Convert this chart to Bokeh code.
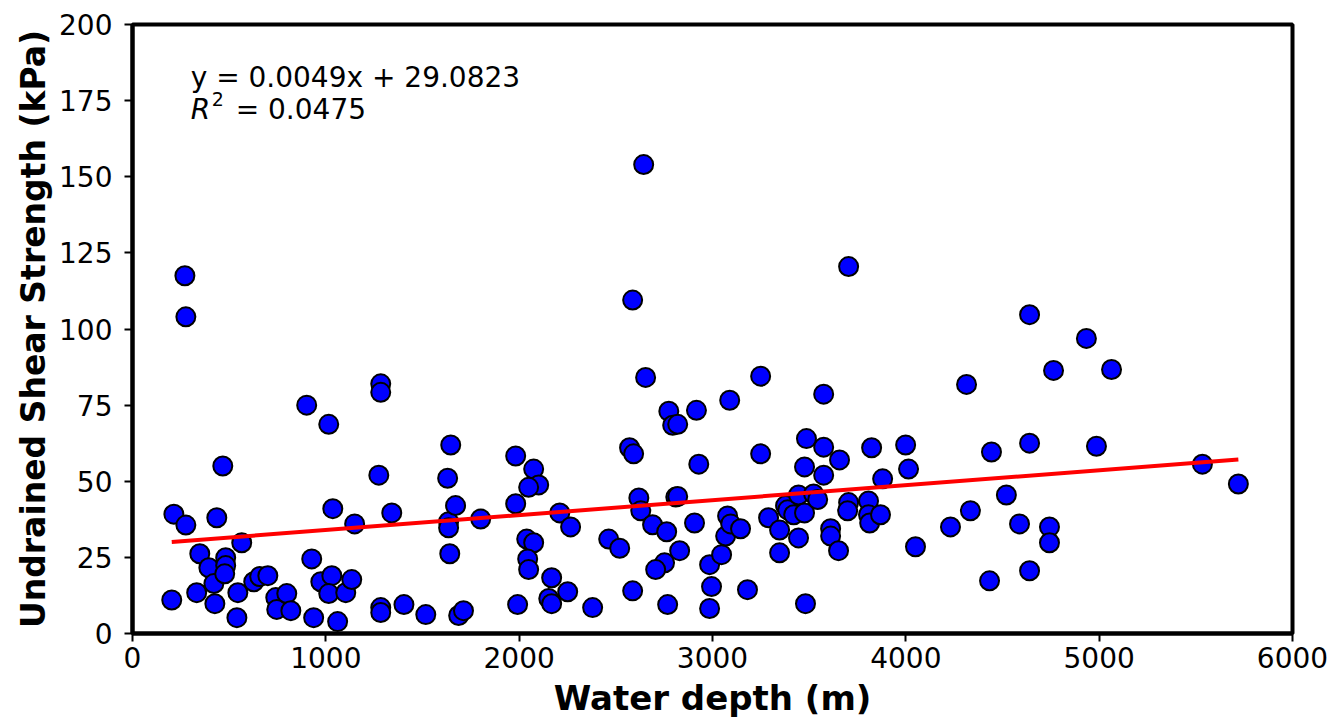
import numpy as np
from bokeh.plotting import figure
from bokeh.models import Range1d, FixedTicker, Label, ColumnDataSource
from bokeh.embed import file_html
from bokeh.resources import INLINE

# Data
water_depth = [
    271, 276, 203, 214, 276, 348, 332, 395, 421, 426, 436, 467, 482, 482, 477,
    540, 545, 565, 627, 658, 700, 741, 746, 798, 819, 901, 927, 937, 974, 1015,
    1036, 1031, 1015, 1061, 1103, 1134, 1149, 1284, 1284, 1274, 1284, 1284,
    1341, 1404, 1517, 1630, 1646, 1635, 1635, 1641, 1671, 1687, 1712, 1801,
    1982, 1982, 1992, 2075, 2101, 2049, 2210, 2266, 2039, 2075, 2044, 2049,
    2168, 2251, 2153, 2168, 2380, 2463, 2520, 2587, 2571, 2592, 2587, 2644,
    2654, 2619, 2629, 2774, 2794, 2820, 2810, 2820, 2690, 2763, 2830, 2752,
    2706, 2768, 2907, 2917, 2929, 2985, 2995, 2985, 3047, 3068, 3078, 3094,
    3145, 3089, 3181, 3249, 3249, 3290, 3347, 3347, 3378, 3389, 3420, 3445,
    3445, 3476, 3476, 3486, 3481, 3523, 3544, 3575, 3575, 3575, 3611, 3611,
    3652, 3657, 3704, 3699, 3704, 3807, 3807, 3813, 3869, 3823, 3880, 3999,
    4014, 4050, 4231, 4314, 4334, 4433, 4443, 4520, 4588, 4640, 4640, 4640,
    4743, 4743, 4764, 4934, 4986, 5064, 5534, 5720,
]
shear_strength = [
    117.5, 104, 11, 39.2, 35.6, 26.2, 13.4, 21.6, 16.4, 9.8, 38, 55, 24.9, 22.3, 19.6,
    5.2, 13.4, 29.8, 17, 18.7, 19, 11.8, 7.9, 13.1, 7.5, 75, 24.5, 5.2, 17, 68.7,
    41, 19, 13.1, 3.9, 13.4, 17.7, 36, 82, 79.2, 52, 8.5, 6.9,
    39.6, 9.5, 6.2, 51, 61.9, 36.7, 34.7, 26.2, 42, 5.9, 7.5, 37.6,
    58.3, 42.6, 9.5, 54, 48.8, 48, 39.6, 35, 31, 29.8, 24.5, 21,
    18.3, 13.7, 11.5, 9.8, 8.5, 31, 28, 14, 61, 59, 109.5, 154,
    84.1, 44.5, 40.3, 73, 68.4, 68.7, 44.8, 45, 35.7, 33.4, 27.2, 23.2,
    21, 9.5, 36.3, 73.3, 55.6, 22.6, 15.4, 8.2, 25.9, 32, 38.6, 36,
    34.4, 76.6, 14.4, 84.5, 59, 38, 34, 26.5, 42, 40.6, 39, 31.4,
    45.5, 39.6, 54.7, 64, 9.8, 45.8, 44, 78.6, 61.2, 52, 34.4, 32,
    27.2, 57, 43, 40.3, 120.5, 43.5, 39, 36.3, 39, 61, 50.8, 61.9,
    54, 28.5, 35, 81.8, 40.3, 17.3, 59.6, 45.5, 36, 104.7, 62.5, 20.6,
    35, 29.8, 86.4, 96.9, 61.5, 86.7, 55.6, 49.1,
]
slope = 0.0049
intercept = 29.0823
r_squared = 0.0475
x_ticks = [0, 1000, 2000, 3000, 4000, 5000, 6000]
y_ticks = [0, 25, 50, 75, 100, 125, 150, 175, 200]

FONT = "DejaVu Sans"

p = figure(width=1334, height=725, output_backend="svg", toolbar_location=None,
           x_range=Range1d(0, 6000), y_range=Range1d(0, 200),
           min_border_left=132, min_border_right=42, min_border_top=24,
           min_border_bottom=92)
p.background_fill_color = "white"
p.border_fill_color = "white"
p.outline_line_color = "black"
p.outline_line_width = 4
p.xgrid.visible = False
p.ygrid.visible = False

for ax in (p.xaxis[0], p.yaxis[0]):
    ax.axis_line_width = 4
    ax.axis_line_color = "black"
    ax.major_tick_line_width = 2
    ax.major_tick_out = 8
    ax.major_tick_in = 0
    ax.minor_tick_line_color = None
    ax.major_label_text_font = FONT
    ax.major_label_text_font_size = "28px"
    ax.major_label_text_color = "black"
    ax.axis_label_text_font = FONT
    ax.axis_label_text_font_style = "bold"
    ax.axis_label_text_color = "black"

p.xaxis.axis_label_text_font_size = "34px"
p.yaxis.axis_label_text_font_size = "33px"
p.xaxis.ticker = FixedTicker(ticks=x_ticks)
p.yaxis.ticker = FixedTicker(ticks=y_ticks)
p.xaxis.axis_label = "Water depth (m)"
p.yaxis.axis_label = "Undrained Shear Strength (kPa)"
p.xaxis.major_label_standoff = 5
p.xaxis.axis_label_standoff = 7
p.yaxis.major_label_standoff = 12
p.yaxis.axis_label_standoff = 3

src = ColumnDataSource(dict(x=water_depth, y=shear_strength))
p.scatter("x", "y", source=src, size=19, marker="circle",
          fill_color="#0000ff", line_color="black", line_width=2)

xs = np.array([min(water_depth), max(water_depth)], dtype=float)
ys = slope * xs + intercept
p.line(xs, ys, line_color="#ff0000", line_width=4)

p.add_layout(Label(x=301, y=182.7, text=f"y = {slope:.4f}x + {intercept:.4f}",
                   text_font=FONT, text_font_size="28px", text_color="black",
                   text_baseline="alphabetic"))
p.add_layout(Label(x=301, y=172, text="R", text_font=FONT, text_font_size="28px",
                   text_font_style="italic", text_color="black",
                   text_baseline="alphabetic"))
p.add_layout(Label(x=301, y=172, x_offset=21, y_offset=11, text="2", text_font=FONT,
                   text_font_size="19px", text_color="black",
                   text_baseline="alphabetic"))
p.add_layout(Label(x=301, y=172, x_offset=45, text=f"= {r_squared:.4f}",
                   text_font=FONT, text_font_size="28px", text_color="black",
                   text_baseline="alphabetic"))

open("out.html", "w").write(file_html(p, INLINE))
